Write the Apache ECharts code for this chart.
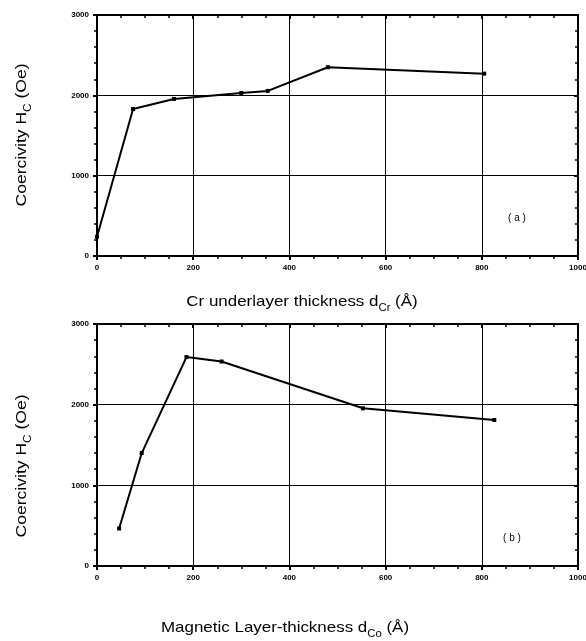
<!DOCTYPE html>
<html>
<head>
<meta charset="utf-8">
<script src="https://cdn.jsdelivr.net/npm/echarts@6/dist/echarts.min.js"></script>
<style>
  html, body { margin: 0; padding: 0; background: #fff; }
  #chart { width: 586px; height: 641px; }
</style>
</head>
<body>
<div id="chart"></div>
<script>
// (a) Cr underlayer thickness vs coercivity
const crThickness = [0, 75, 160, 300, 355, 480, 805];
const crCoercivity = [240, 1830, 1955, 2030, 2055, 2350, 2270];

// (b) magnetic layer thickness vs coercivity
const coThickness = [46, 93, 186, 259, 553, 826];
const coCoercivity = [465, 1400, 2590, 2535, 1955, 1810];

const xTicks = [0, 200, 400, 600, 800, 1000];
const yTicks = [0, 1000, 2000, 3000];

const FONT = 'Liberation Sans';
const chart = echarts.init(document.getElementById('chart'));

function bottomX(gridIndex) {
  return {
    type: 'value', gridIndex: gridIndex, min: 0, max: 1000, interval: 200,
    position: 'bottom',
    axisLine: { show: true, onZero: false, lineStyle: { color: '#000', width: 2 } },
    axisTick: { show: true, inside: false, length: 4, lineStyle: { color: '#000', width: 2 } },
    minorTick: { show: true, splitNumber: 4, length: 3, lineStyle: { color: '#000', width: 1.5 } },
    axisLabel: { color: '#000', fontFamily: FONT, fontSize: 8, fontWeight: 'bold', margin: 8,
      formatter: v => xTicks.indexOf(v) >= 0 ? String(v) : '' },
    splitLine: { show: true, lineStyle: { color: '#000', width: 1 } }
  };
}
function topX(gridIndex) {
  return {
    type: 'value', gridIndex: gridIndex, min: 0, max: 1000, interval: 200,
    position: 'top',
    axisLine: { show: true, onZero: false, lineStyle: { color: '#000', width: 2 } },
    axisTick: { show: true, inside: true, length: 4, lineStyle: { color: '#000', width: 2 } },
    minorTick: { show: true, splitNumber: 4, length: 3, lineStyle: { color: '#000', width: 1.5 } },
    axisLabel: { show: false },
    splitLine: { show: false }
  };
}
function leftY(gridIndex) {
  return {
    type: 'value', gridIndex: gridIndex, min: 0, max: 3000, interval: 1000,
    position: 'left',
    axisLine: { show: true, onZero: false, lineStyle: { color: '#000', width: 2 } },
    axisTick: { show: true, inside: false, length: 4, lineStyle: { color: '#000', width: 2 } },
    minorTick: { show: true, splitNumber: 5, length: 3, lineStyle: { color: '#000', width: 1.5 } },
    axisLabel: { color: '#000', fontFamily: FONT, fontSize: 8, fontWeight: 'bold', margin: 8,
      formatter: v => yTicks.indexOf(v) >= 0 ? String(v) : '' },
    splitLine: { show: true, lineStyle: { color: '#000', width: 1 } }
  };
}
function rightY(gridIndex) {
  return {
    type: 'value', gridIndex: gridIndex, min: 0, max: 3000, interval: 1000,
    position: 'right',
    axisLine: { show: true, onZero: false, lineStyle: { color: '#000', width: 2 } },
    axisTick: { show: true, inside: true, length: 4, lineStyle: { color: '#000', width: 2 } },
    minorTick: { show: true, splitNumber: 5, length: 3, lineStyle: { color: '#000', width: 1.5 } },
    axisLabel: { show: false },
    splitLine: { show: false }
  };
}

const titleRich = {
  a: { fontFamily: FONT, fontSize: 15, color: '#000', lineHeight: 16 },
  s: { fontFamily: FONT, fontSize: 10, color: '#000', padding: [12, 0, 0, 0] }
};

function line(xs, ys, idx) {
  return {
    type: 'line', xAxisIndex: idx * 2, yAxisIndex: idx * 2,
    data: xs.map((x, i) => [x, ys[i]]),
    symbol: 'rect', symbolSize: 4,
    itemStyle: { color: '#000' },
    lineStyle: { color: '#000', width: 2 },
    silent: true, animation: false
  };
}

const option = {
  backgroundColor: '#fff',
  animation: false,
  grid: [
    { left: 97, right: 8, top: 15, height: 241, outerBoundsMode: 'none' },
    { left: 97, right: 8, top: 324, height: 242, outerBoundsMode: 'none' }
  ],
  xAxis: [bottomX(0), topX(0), bottomX(1), topX(1)],
  yAxis: [leftY(0), rightY(0), leftY(1), rightY(1)],
  series: [line(crThickness, crCoercivity, 0), line(coThickness, coCoercivity, 1)],
  graphic: [
    { type: 'text', x: 22, y: 135, rotation: Math.PI / 2, scaleX: 1.17,
      style: { text: '{a|Coercivity H}{s|C}{a| (Oe)}', rich: titleRich, align: 'center', verticalAlign: 'middle' } },
    { type: 'text', x: 22, y: 466, rotation: Math.PI / 2, scaleX: 1.17,
      style: { text: '{a|Coercivity H}{s|C}{a| (Oe)}', rich: titleRich, align: 'center', verticalAlign: 'middle' } },
    { type: 'text', x: 302, y: 302, scaleX: 1.13,
      style: { text: '{a|Cr underlayer thickness d}{s|Cr}{a| (Å)}', rich: titleRich, align: 'center', verticalAlign: 'middle' } },
    { type: 'text', x: 285, y: 628, scaleX: 1.13,
      style: { text: '{a|Magnetic Layer-thickness d}{s|Co}{a| (Å)}', rich: titleRich, align: 'center', verticalAlign: 'middle' } },
    { type: 'text', x: 517, y: 218,
      style: { text: '( a )', fontFamily: FONT, fontSize: 10, fill: '#000', align: 'center', verticalAlign: 'middle' } },
    { type: 'text', x: 512, y: 538,
      style: { text: '( b )', fontFamily: FONT, fontSize: 10, fill: '#000', align: 'center', verticalAlign: 'middle' } }
  ]
};

chart.setOption(option);
</script>
</body>
</html>
